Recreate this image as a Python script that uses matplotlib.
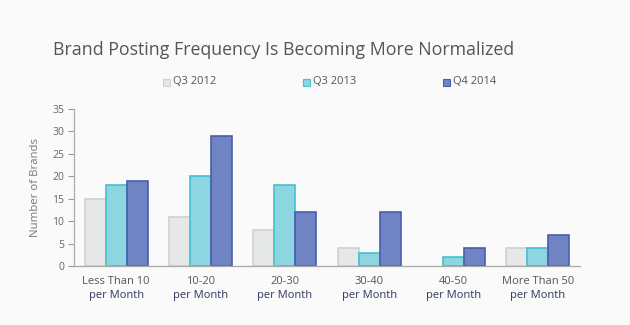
import numpy as np
import matplotlib.pyplot as plt
from matplotlib.patches import Rectangle

# data
categories = ['Less Than 10', '10-20', '20-30', '30-40', '40-50', 'More Than 50']
series_names = ['Q3 2012', 'Q3 2013', 'Q4 2014']
q3_2012 = [15, 11, 8, 4, 0, 4]
q3_2013 = [18, 20, 18, 3, 2, 4]
q4_2014 = [19, 29, 12, 12, 4, 7]
y_ticks = [0, 5, 10, 15, 20, 25, 30, 35]

plt.rcParams['font.family'] = ['Open Sans', 'DejaVu Sans']

face_colors = ['#e6e7e7', '#8cd5e1', '#7083c3']
edge_colors = ['#cfd0d0', '#45c0cf', '#4a5db0']
bg = '#fafafa'

fig = plt.figure(figsize=(6.3, 3.25), dpi=100, facecolor=bg)
ax = fig.add_axes([74 / 630, 1 - 266 / 325, 506 / 630, 157 / 325], facecolor=bg)

x = np.arange(len(categories))
w = 0.25
for i, vals in enumerate([q3_2012, q3_2013, q4_2014]):
    edges = [edge_colors[i] if v > 0 else 'none' for v in vals]
    ax.bar(x + (i - 1) * w, vals, width=w, color=face_colors[i],
           edgecolor=edges, linewidth=1.2, zorder=2)

ax.set_xlim(-0.5, len(categories) - 0.5)
ax.set_ylim(0, 35)
ax.set_yticks(y_ticks)
ax.tick_params(axis='y', labelsize=7.5, colors='#999999', labelcolor='#666666',
               length=4, width=0.8, pad=3)
ax.tick_params(axis='x', length=0, labelbottom=False)
for s in ['top', 'right']:
    ax.spines[s].set_visible(False)
ax.spines['left'].set_color('#aaaaaa')
ax.spines['bottom'].set_color('#aaaaaa')
ax.spines['left'].set_linewidth(0.9)
ax.spines['bottom'].set_linewidth(0.9)

ax.set_ylabel('Number of Brands', fontsize=8.2, color='#777777', labelpad=8)

# two-line category labels, second line darker
for xi, c in zip(x, categories):
    ax.text(xi, -3.4, c, ha='center', va='center', fontsize=8, color='#555555')
    ax.text(xi, -6.5, 'per Month', ha='center', va='center', fontsize=8, color='#2f3a5e')

fig.text(53 / 630, 1 - 50 / 325, 'Brand Posting Frequency Is Becoming More Normalized',
         fontsize=12.8, color='#555555', va='center', ha='left')

# legend
leg_x = [163, 303, 443]
for lx, name, fc, ec in zip(leg_x, series_names, face_colors, edge_colors):
    fig.patches.append(Rectangle((lx / 630, 1 - 86 / 325), 7 / 630, 7 / 325,
                                 transform=fig.transFigure, facecolor=fc,
                                 edgecolor=ec, linewidth=0.8))
    fig.text((lx + 10) / 630, 1 - 82 / 325, name, fontsize=8, color='#555555',
             va='center', ha='left')

fig.savefig('out.png', dpi=100, facecolor=bg)
